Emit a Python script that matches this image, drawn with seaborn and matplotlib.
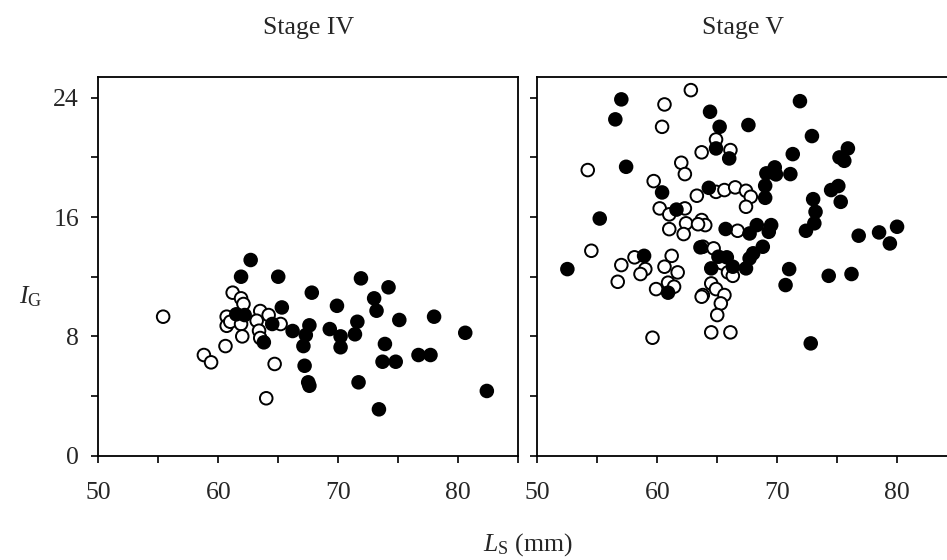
import numpy as np
import pandas as pd
import matplotlib
matplotlib.use("Agg")
import matplotlib.pyplot as plt
import seaborn as sns
from matplotlib.ticker import MultipleLocator

# ---------------- data ----------------
panels = ["Stage IV", "Stage V"]

s4_open_ls = [55.4, 58.8, 59.4, 60.6, 61.2, 61.9, 62.1, 60.7, 60.7, 61.0,
              61.9, 62.0, 63.5, 64.2, 63.2, 63.4, 63.5, 65.2, 64.7, 64.0]
s4_open_ig = [9.32, 6.75, 6.26, 7.35, 10.93, 10.55, 10.17, 9.32, 8.71, 8.98,
              8.83, 8.0, 9.7, 9.43, 9.05, 8.38, 7.89, 8.83, 6.15, 3.85]

s4_filled_ls = [62.7, 61.9, 65.0, 65.3, 61.5, 62.2, 64.5, 63.8, 66.2, 67.3,
                67.6, 67.1, 67.2, 67.5, 67.6, 67.8, 69.9, 69.3, 70.2, 70.2,
                71.9, 71.6, 71.4, 71.7, 73.0, 73.2, 74.2, 73.9, 73.7, 74.8,
                75.1, 73.4, 76.7, 77.7, 78.0, 80.6, 82.4]
s4_filled_ig = [13.12, 12.0, 12.0, 9.94, 9.48, 9.43, 8.83, 7.6, 8.36, 8.09,
                8.74, 7.35, 6.03, 4.92, 4.69, 10.93, 10.05, 8.49, 8.0, 7.27,
                11.89, 8.98, 8.14, 4.92, 10.55, 9.72, 11.29, 7.49, 6.3, 6.3,
                9.1, 3.11, 6.75, 6.75, 9.32, 8.24, 4.34]

s5_open_ls = [62.8, 60.6, 60.4, 64.9, 66.1, 63.7, 54.2, 62.0, 62.3, 59.7,
              63.3, 64.9, 65.6, 66.5, 67.4, 67.8, 67.4, 60.2, 61.0, 62.3,
              62.4, 63.7, 64.0, 61.0, 62.2, 66.7, 54.5, 63.8, 64.7, 58.1,
              61.2, 57.0, 56.7, 59.0, 58.6, 60.6, 61.7, 59.9, 60.9, 61.4,
              59.6, 65.4, 65.9, 66.3, 64.5, 64.9, 65.6, 65.3, 63.8, 63.7,
              65.0, 64.5, 66.1, 63.4]
s5_open_ig = [24.51, 23.55, 22.05, 21.2, 20.49, 20.34, 19.15, 19.64, 18.88, 18.41,
              17.43, 17.69, 17.81, 17.99, 17.76, 17.36, 16.69, 16.58, 16.18, 16.58,
              15.58, 15.8, 15.46, 15.19, 14.86, 15.08, 13.74, 14.01, 13.9, 13.3,
              13.4, 12.78, 11.66, 12.51, 12.18, 12.67, 12.29, 11.17, 11.6, 11.33,
              7.91, 12.9, 12.29, 12.06, 11.55, 11.17, 10.77, 10.21, 10.77, 10.66,
              9.43, 8.27, 8.27, 15.52]

s5_filled_ls = [57.0, 56.5, 64.4, 65.2, 64.9, 66.0, 57.4, 60.4, 64.3, 61.6,
                55.2, 65.7, 63.6, 58.9, 65.1, 65.8, 67.6, 71.9, 72.9, 71.3,
                75.9, 75.2, 75.6, 69.1, 69.8, 69.9, 71.1, 69.0, 69.0, 74.5,
                75.1, 75.3, 73.0, 73.2, 73.1, 72.4, 68.3, 67.7, 69.5, 69.3,
                68.8, 68.0, 67.7, 67.4, 64.5, 66.3, 76.8, 78.5, 79.4, 80.0,
                71.0, 70.7, 74.3, 76.2, 72.8, 52.5, 60.9]
s5_filled_ig = [23.89, 22.55, 23.06, 22.05, 20.6, 19.93, 19.37, 17.65, 17.96, 16.5,
                15.9, 15.2, 13.97, 13.4, 13.34, 13.3, 22.17, 23.77, 21.43, 20.22,
                20.6, 20.0, 19.77, 18.93, 19.33, 18.86, 18.88, 18.1, 17.29, 17.81,
                18.08, 17.02, 17.2, 16.35, 15.58, 15.08, 15.46, 14.9, 15.46, 15.01,
                14.01, 13.57, 13.23, 12.56, 12.56, 12.67, 14.75, 14.97, 14.23, 15.35,
                12.51, 11.44, 12.06, 12.18, 7.53, 12.51, 10.93]

x_ticks = [50, 60, 70, 80]
y_ticks = [0, 8, 16, 24]

# ---------------- table ----------------
frames = []
for panel, group, ls, ig in [
    ("Stage IV", "open", s4_open_ls, s4_open_ig),
    ("Stage IV", "filled", s4_filled_ls, s4_filled_ig),
    ("Stage V", "open", s5_open_ls, s5_open_ig),
    ("Stage V", "filled", s5_filled_ls, s5_filled_ig),
]:
    frames.append(pd.DataFrame({"panel": panel, "group": group, "Ls": ls, "Ig": ig}))
df = pd.concat(frames, ignore_index=True)

# ---------------- style ----------------
sns.set_style("ticks")
plt.rcParams["font.family"] = ["Liberation Serif", "DejaVu Serif"]
plt.rcParams["mathtext.fontset"] = "custom"
plt.rcParams["mathtext.rm"] = "Liberation Serif"
plt.rcParams["mathtext.it"] = "Liberation Serif:italic"

W, H = 947, 560
fig = plt.figure(figsize=(W / 100, H / 100), dpi=100)

ax_w = 419.6 / W
ax_h = 378.4 / H
bottom = (H - 455.7) / H
lefts = [98.4 / W, 537.4 / W]

palette = {"open": "white", "filled": "black"}
fs = 18.5

for i, panel in enumerate(panels):
    ax = fig.add_axes([lefts[i], bottom, ax_w, ax_h])
    sub = df[df["panel"] == panel]
    sns.scatterplot(data=sub, x="Ls", y="Ig", hue="group", palette=palette,
                    hue_order=["filled", "open"],
                    s=82, edgecolor="black", linewidth=1.4, legend=False,
                    ax=ax, zorder=3)
    ax.set_xlim(50, 85)
    ax.set_ylim(0, 25.37)
    ax.set_xticks(x_ticks)
    ax.xaxis.set_minor_locator(MultipleLocator(5))
    ax.set_yticks(y_ticks)
    ax.yaxis.set_minor_locator(MultipleLocator(4))
    ax.set_xlabel("")
    ax.set_ylabel("")
    ax.tick_params(which="both", direction="out", length=5, width=1.2,
                   color="black", labelsize=fs)
    ax.tick_params(axis="x", which="both", pad=14)
    ax.tick_params(axis="y", which="both", pad=9)
    for sp in ax.spines.values():
        sp.set_visible(True)
        sp.set_linewidth(1.3)
        sp.set_color("black")
    if i == 1:
        ax.tick_params(axis="y", labelleft=False)
    # panel title
    cx = lefts[i] + ax_w / 2
    fig.text(cx if i == 0 else 743 / W, 1 - 28 / H, panel, ha="center",
             va="center", fontsize=fs)

fig.text(528 / W, 1 - 545 / H, r"$\mathit{L}_{\mathrm{S}}$ (mm)", ha="center",
         va="center", fontsize=fs)
fig.text(31 / W, 1 - 297 / H, r"$\mathit{I}_{\mathrm{G}}$", ha="center",
         va="center", rotation=0, fontsize=fs)

fig.savefig("out.png", dpi=100, facecolor="white")
